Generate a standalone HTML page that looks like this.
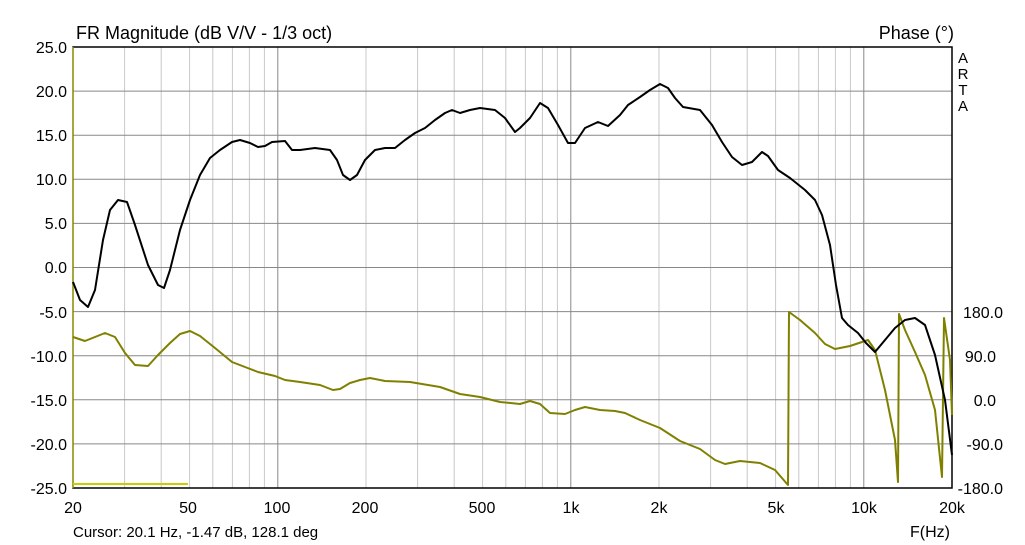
<!DOCTYPE html><html><head><style>body{margin:0;background:#fff}svg{display:block;font-family:"Liberation Sans",sans-serif}</style></head><body>
<svg width="1025" height="545" viewBox="0 0 1025 545">
<rect width="1025" height="545" fill="#fff"/>
<g stroke="#c8c8c8" stroke-width="1">
<line x1="124.6" y1="47" x2="124.6" y2="488"/><line x1="161.2" y1="47" x2="161.2" y2="488"/><line x1="189.6" y1="47" x2="189.6" y2="488"/><line x1="212.8" y1="47" x2="212.8" y2="488"/><line x1="232.4" y1="47" x2="232.4" y2="488"/><line x1="249.4" y1="47" x2="249.4" y2="488"/><line x1="264.4" y1="47" x2="264.4" y2="488"/>
<line x1="366" y1="47" x2="366" y2="488"/><line x1="417.6" y1="47" x2="417.6" y2="488"/><line x1="454.2" y1="47" x2="454.2" y2="488"/><line x1="482.6" y1="47" x2="482.6" y2="488"/><line x1="505.8" y1="47" x2="505.8" y2="488"/><line x1="525.4" y1="47" x2="525.4" y2="488"/><line x1="542.4" y1="47" x2="542.4" y2="488"/><line x1="557.4" y1="47" x2="557.4" y2="488"/>
<line x1="659" y1="47" x2="659" y2="488"/><line x1="710.6" y1="47" x2="710.6" y2="488"/><line x1="747.2" y1="47" x2="747.2" y2="488"/><line x1="775.6" y1="47" x2="775.6" y2="488"/><line x1="798.8" y1="47" x2="798.8" y2="488"/><line x1="818.4" y1="47" x2="818.4" y2="488"/><line x1="835.4" y1="47" x2="835.4" y2="488"/><line x1="850.4" y1="47" x2="850.4" y2="488"/>
</g>
<g stroke="#888" stroke-width="1">
<line x1="277.8" y1="47" x2="277.8" y2="488"/><line x1="570.8" y1="47" x2="570.8" y2="488"/><line x1="863.8" y1="47" x2="863.8" y2="488"/>
<line x1="73" y1="91.1" x2="952" y2="91.1"/><line x1="73" y1="135.2" x2="952" y2="135.2"/><line x1="73" y1="179.3" x2="952" y2="179.3"/><line x1="73" y1="223.4" x2="952" y2="223.4"/><line x1="73" y1="267.5" x2="952" y2="267.5"/><line x1="73" y1="311.6" x2="952" y2="311.6"/><line x1="73" y1="355.7" x2="952" y2="355.7"/><line x1="73" y1="399.8" x2="952" y2="399.8"/><line x1="73" y1="443.9" x2="952" y2="443.9"/>
</g>
<rect x="73" y="47" width="879" height="441" fill="none" stroke="#000" stroke-width="1.5"/>
<line x1="73" y1="47" x2="73" y2="488" stroke="#cccc00" stroke-width="1"/>
<g font-size="16" fill="#000" text-anchor="end">
<text x="67" y="53">25.0</text><text x="67" y="97">20.0</text><text x="67" y="141">15.0</text><text x="67" y="185">10.0</text><text x="67" y="229">5.0</text><text x="67" y="273">0.0</text><text x="67" y="318">-5.0</text><text x="67" y="362">-10.0</text><text x="67" y="406">-15.0</text><text x="67" y="450">-20.0</text><text x="67" y="494">-25.0</text>
</g>
<g font-size="16" fill="#000" text-anchor="end">
<text x="1003" y="318">180.0</text><text x="996" y="362">90.0</text><text x="996" y="406">0.0</text><text x="1003" y="450">-90.0</text><text x="1003" y="494">-180.0</text>
</g>
<g font-size="16" fill="#000" text-anchor="middle">
<text x="73" y="513">20</text><text x="188" y="513">50</text><text x="277" y="513">100</text><text x="365" y="513">200</text><text x="482" y="513">500</text><text x="571" y="513">1k</text><text x="659" y="513">2k</text><text x="776" y="513">5k</text><text x="864" y="513">10k</text><text x="952" y="513">20k</text>
</g>
<text x="930" y="537" font-size="16" text-anchor="middle">F(Hz)</text>
<text x="73" y="537" font-size="15">Cursor: 20.1 Hz, -1.47 dB, 128.1 deg</text>
<text x="76" y="39" font-size="18">FR Magnitude (dB V/V - 1/3 oct)</text>
<text x="954" y="39" font-size="18" text-anchor="end">Phase (°)</text>
<g font-size="15" text-anchor="middle"><text x="963" y="63">A</text><text x="963" y="79">R</text><text x="963" y="95">T</text><text x="963" y="111">A</text></g>
<line x1="73" y1="484" x2="188" y2="484" stroke="#cccc00" stroke-width="2"/>
<polyline fill="none" stroke="#808000" stroke-width="2" stroke-linejoin="round" points="73,337 85,341 95,337 105,333 115,337 125,353 135,365 148,366 158,355 170,343 180,334 190,331 200,336 215,348 232,362 245,367 258,372 275,376 285,380 300,382 320,385 333,390 340,389 350,383 360,380 370,378 385,381 410,382 440,387 460,394 480,397 500,402 520,404 530,401 540,404 550,413 565,414 575,410 585,407 600,410 615,411 625,413 640,420 660,428 680,441 700,449 715,460 725,464 740,461 760,463 775,470 788,485 789,312 800,320 815,333 825,344 835,349 850,346 868,340 875,350 885,390 895,440 898,482 899,314 905,330 915,352 925,375 935,410 942,477 944,318 950,360 952,415"/>
<polyline fill="none" stroke="#000" stroke-width="2" stroke-linejoin="round" points="73,282 80,300 88,307 95,290 103,240 110,210 118,200 127,202 135,225 148,265 158,285 164,288 170,270 180,230 190,200 200,175 210,158 220,150 232,142 240,140 250,143 258,147 265,146 272,142 285,141 292,150 300,150 315,148 330,150 337,160 343,175 350,180 357,175 365,160 375,150 385,148 395,148 405,140 415,133 425,128 435,120 445,113 452,110 460,113 470,110 480,108 495,110 505,118 515,132 520,128 530,118 540,103 548,108 558,125 568,143 575,143 585,128 598,122 608,126 620,115 628,105 640,97 650,90 660,84 668,88 675,98 683,107 700,110 712,125 722,142 732,157 742,165 752,162 762,152 768,156 778,170 790,178 805,190 815,200 822,215 830,245 836,285 842,318 848,325 858,333 866,343 875,352 885,340 895,328 905,320 915,318 925,325 935,355 945,400 952,455"/>
</svg></body></html>
